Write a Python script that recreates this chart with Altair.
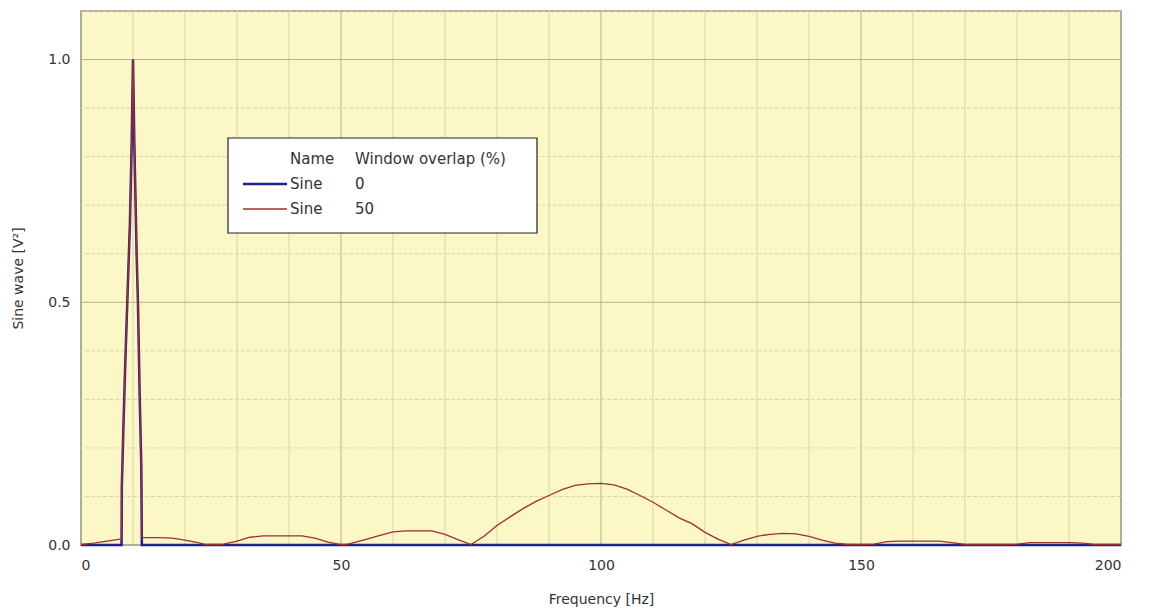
import altair as alt
import pandas as pd

# Spectrum with 0 % window overlap
blue_freq = [0, 7.8, 7.85, 8.15, 8.5, 8.9, 9.4, 9.75, 10.0, 10.25, 10.7, 10.95, 11.3, 11.6, 11.7, 200]
blue_val = [0, 0, 0.12, 0.24, 0.37, 0.50, 0.66, 0.83, 1.0, 0.83, 0.60, 0.50, 0.30, 0.16, 0, 0]

# Spectrum with 50 % window overlap
red_freq = [0, 2.5, 5, 7.5, 7.8, 7.85, 8.15, 8.5, 8.9, 9.4, 9.75, 10.0, 10.25, 10.7, 10.95,
            11.3, 11.6, 11.7, 12.5, 15, 17.5, 20, 22.5, 24, 27, 30, 32.5, 35, 37.5, 40,
            42.5, 45, 47.5, 50, 51, 55, 57.5, 60, 62.5, 65, 67.5, 70, 72.5, 75, 77.5,
            80, 82.5, 85, 87.5, 90, 92.5, 95, 97.5, 100, 102.5, 105, 107.5, 110, 112.5,
            115, 117.5, 120, 122.5, 125, 127.5, 130, 132.5, 135, 137.5, 140, 142.5, 145,
            147.5, 150, 152.5, 155, 157.5, 160, 162.5, 165, 167.5, 170, 172.5, 175,
            177.5, 180, 182.5, 185, 187.5, 190, 192.5, 195, 197.5, 200]
red_val = [0.001, 0.004, 0.008, 0.012, 0.012, 0.12, 0.24, 0.37, 0.50, 0.66, 0.83, 1.0, 0.83, 0.60, 0.50,
           0.30, 0.16, 0.015, 0.015, 0.015, 0.014, 0.010, 0.005, 0.001, 0.001, 0.008, 0.016, 0.019, 0.019, 0.019,
           0.019, 0.014, 0.006, 0.001, 0.001, 0.012, 0.020, 0.027, 0.029, 0.029, 0.029, 0.022, 0.011, 0.001, 0.018,
           0.040, 0.058, 0.075, 0.090, 0.102, 0.114, 0.123, 0.126, 0.127, 0.124, 0.115, 0.102, 0.088, 0.072,
           0.056, 0.044, 0.026, 0.012, 0.001, 0.010, 0.018, 0.022, 0.024, 0.023, 0.018, 0.010, 0.004,
           0.001, 0.001, 0.002, 0.007, 0.008, 0.008, 0.008, 0.008, 0.005, 0.001, 0.001, 0.001,
           0.001, 0.002, 0.005, 0.005, 0.005, 0.005, 0.004, 0.001, 0.001, 0.001]

# Legend entries
legend_names = ["Sine", "Sine"]
legend_overlap = ["0", "50"]
legend_colors = ["#1f1f8f", "#a0302a"]

x_grid = list(range(0, 201, 10))
y_grid = [round(0.1 * i, 1) for i in range(0, 12)]

FONT = "DejaVu Sans"
TXT = "#333333"
W, H = 1040, 534

blue = pd.DataFrame({"f": blue_freq, "v": blue_val})
red = pd.DataFrame({"f": red_freq, "v": red_val})

xs = alt.Scale(domain=[0, 200], nice=False)
ys = alt.Scale(domain=[0, 1.1], nice=False)

xgrid_df = pd.DataFrame({"f": x_grid, "major": [g % 50 == 0 for g in x_grid]})
ygrid_df = pd.DataFrame({"v": y_grid, "major": [abs(g * 2 - round(g * 2)) < 1e-9 for g in y_grid]})

vgrid = alt.Chart(xgrid_df).mark_rule(strokeWidth=1).encode(
    x=alt.X("f:Q", scale=xs),
    color=alt.condition("datum.major", alt.value("#b5b294"), alt.value("#d8d5ac")),
)
hgrid = alt.Chart(ygrid_df).mark_rule(strokeWidth=1).encode(
    y=alt.Y("v:Q", scale=ys),
    color=alt.condition("datum.major", alt.value("#b5b294"), alt.value("#d8d5ac")),
    strokeDash=alt.condition("datum.major", alt.value([1, 0]), alt.value([4, 2])),
)

blue_line = alt.Chart(blue).mark_line(color=legend_colors[0], strokeWidth=2.5, interpolate="linear").encode(
    x=alt.X("f:Q", scale=xs,
            axis=alt.Axis(title="Frequency [Hz]", values=[0, 50, 100, 150, 200], grid=False,
                          ticks=False, domain=False, labelPadding=13, titlePadding=20,
                          labelFontSize=14, titleFontSize=14, labelFont=FONT, titleFont=FONT,
                          labelColor=TXT, titleColor=TXT, titleFontWeight="normal")),
    y=alt.Y("v:Q", scale=ys,
            axis=alt.Axis(title="Sine wave [V²]", values=[0, 0.5, 1.0], format=".1f", grid=False,
                          ticks=False, domain=False, labelPadding=11, titlePadding=22,
                          labelFontSize=14, titleFontSize=14, labelFont=FONT, titleFont=FONT,
                          labelColor=TXT, titleColor=TXT, titleFontWeight="normal")),
)
red_line = alt.Chart(red).mark_line(color=legend_colors[1], strokeWidth=1.3, interpolate="linear").encode(
    x=alt.X("f:Q", scale=xs),
    y=alt.Y("v:Q", scale=ys),
)

# Legend box
box = alt.Chart(pd.DataFrame({"a": [0]})).mark_rect(fill="white", stroke="#222222", strokeWidth=1.2).encode(
    x=alt.value(147), x2=alt.value(456), y=alt.value(127), y2=alt.value(222)
)
head = alt.Chart(pd.DataFrame({"t": ["Name", "Window overlap (%)"], "px": [209, 274]})).mark_text(
    align="left", baseline="middle", font=FONT, fontSize=15, color=TXT
).encode(x=alt.X("px:Q", scale=None), y=alt.value(148), text="t:N")

leg_df = pd.DataFrame({
    "name": legend_names, "ov": legend_overlap, "col": legend_colors,
    "py": [173, 198], "sw": [2.5, 1.3],
})
leg_lines = alt.Chart(leg_df).mark_rule().encode(
    x=alt.value(162), x2=alt.value(206), y=alt.Y("py:Q", scale=None),
    color=alt.Color("col:N", scale=None), strokeWidth=alt.StrokeWidth("sw:Q", scale=None),
)
leg_names = alt.Chart(leg_df).mark_text(align="left", baseline="middle", font=FONT, fontSize=15,
                                        color=TXT).encode(
    x=alt.value(209), y=alt.Y("py:Q", scale=None), text="name:N")
leg_ov = alt.Chart(leg_df).mark_text(align="left", baseline="middle", font=FONT, fontSize=15,
                                     color=TXT).encode(
    x=alt.value(274), y=alt.Y("py:Q", scale=None), text="ov:N")

chart = alt.layer(
    vgrid, hgrid, blue_line, red_line, box, head, leg_lines, leg_names, leg_ov
).properties(
    width=W, height=H,
    padding={"left": 81, "top": 11, "right": 28, "bottom": 71},
    autosize=alt.AutoSizeParams(type="none"),
    background="white",
).configure_view(
    fill="#fbf7c6", stroke="#a8a8a0", strokeWidth=2
)

chart.save("out.html", embed_options={"renderer": "svg", "actions": False})
